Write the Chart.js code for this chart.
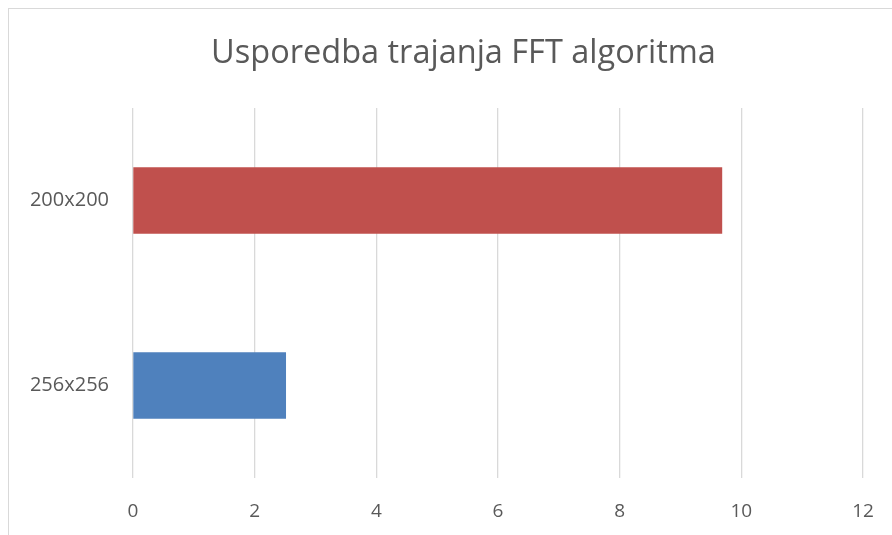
<!DOCTYPE html>
<html lang="hr">

<head>
    <meta charset="UTF-8">
    <meta name="viewport" content="width=device-width, initial-scale=1.0">
    <title>Usporedba trajanja FFT algoritma</title>
    <script src="https://cdn.jsdelivr.net/npm/chart.js"></script>
    <style>
        body { margin: 0; background: #fff; overflow: hidden; }
        .okvir {
            position: absolute; left: 8px; top: 8px; width: 1000px; height: 1000px;
            border-left: 1px solid #d9d9d9; border-top: 1px solid #d9d9d9;
        }
        .container { position: absolute; left: 0; top: 0; width: 918px; height: 535px; }
    </style>
</head>

<body>
    <div class="okvir"></div>
    <div class="container">
        <canvas id="grafikaFFT" width="918" height="535"></canvas>
    </div>

    <script>
        // Dimenzije slike i izmjereno trajanje
        const velicine = ['200x200', '256x256'];
        const trajanja = [9.68, 2.51];
        const boje = ['#C0504D', '#4F81BD'];
        const oznakeX = [0, 2, 4, 6, 8, 10, 12];

        const sivaTekst = '#595959';

        const ctx = document.getElementById('grafikaFFT').getContext('2d');
        new Chart(ctx, {
            type: 'bar',
            data: {
                labels: velicine,
                datasets: [{
                    data: trajanja,
                    backgroundColor: boje,
                    borderWidth: 0,
                    barThickness: 66
                }]
            },
            options: {
                indexAxis: 'y',
                responsive: false,
                animation: false,
                layout: {
                    padding: { left: 9, right: 0, top: 0, bottom: 0 }
                },
                scales: {
                    x: {
                        min: 0,
                        max: 12,
                        afterBuildTicks: (os) => { os.ticks = oznakeX.map(v => ({ value: v })); },
                        afterFit: (os) => { os.height = 57; },
                        grid: { color: '#d9d9d9', lineWidth: 1.3, drawTicks: false },
                        border: { display: false },
                        ticks: {
                            color: sivaTekst,
                            padding: 22,
                            font: { family: 'Open Sans', size: 19 }
                        }
                    },
                    y: {
                        afterFit: (os) => { os.width = 124; },
                        grid: { display: false },
                        border: { display: false },
                        ticks: {
                            color: sivaTekst,
                            padding: 16,
                            font: { family: 'Open Sans', size: 20 }
                        }
                    },
                    // prazan prostor desno od grafa
                    desno: {
                        type: 'linear',
                        axis: 'y',
                        position: 'right',
                        afterFit: (os) => { os.width = 55; },
                        grid: { display: false },
                        border: { display: false },
                        ticks: { display: false }
                    }
                },
                plugins: {
                    legend: { display: false },
                    tooltip: { enabled: false },
                    title: {
                        display: true,
                        text: 'Usporedba trajanja FFT algoritma',
                        color: sivaTekst,
                        font: { family: 'Open Sans', size: 32.5, weight: 'normal' },
                        padding: { top: 34.5, bottom: 34.5 }
                    }
                }
            }
        });
    </script>
</body>

</html>
